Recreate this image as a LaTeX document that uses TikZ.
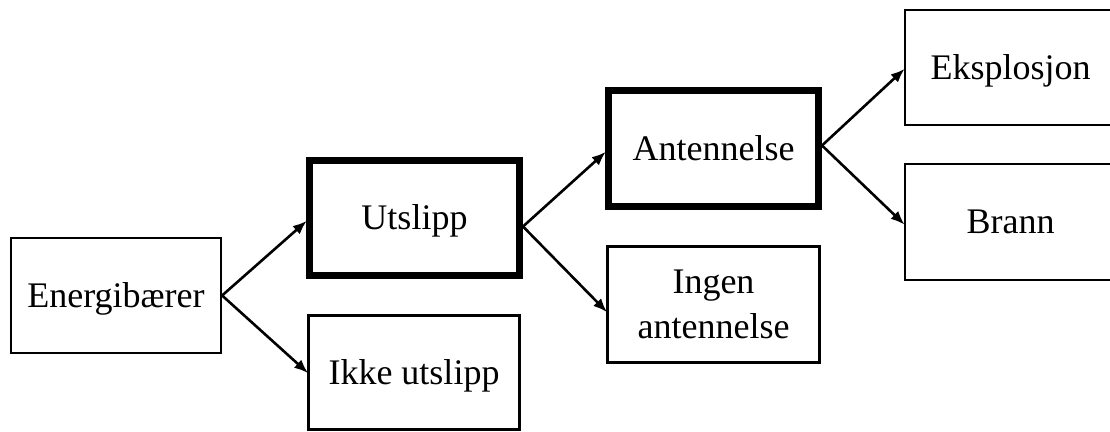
\documentclass[tikz,border=0pt]{standalone}
\usepackage{fontspec}
\setmainfont{Liberation Serif}
\usetikzlibrary{arrows.meta}
\tikzset{
  box/.style={draw=black, line width=2.2pt, minimum width=210pt, minimum height=115pt,
    inner sep=0pt, align=center, text depth=0pt, font=\fontsize{36}{45}\selectfont},
  thickbox/.style={box, line width=7pt},
  conn/.style={draw=black, line width=2.6pt, -{Latex[length=14pt,width=11pt]}, shorten >=-1pt}
}
\begin{document}
\begin{tikzpicture}[x=1pt,y=-1pt]
\useasboundingbox (0,0) rectangle (1110,431);
\clip (0,0) rectangle (1110,431);
\fill[white] (0,0) rectangle (1110,431);
\node[box] (energi) at (116,295.5) {Energibærer};
\node[thickbox] (utslipp) at (414.5,217.5) {Utslipp};
\node[box, minimum width=211pt, minimum height=114pt] (ikke) at (414,372.5) {Ikke utslipp};
\node[thickbox, minimum height=116pt] (antenn) at (713.5,148.5) {Antennelse};
\node[box, minimum width=212pt, minimum height=116pt] (ingen) at (713.5,304.5) {Ingen\\antennelse};
\node[box, minimum width=211pt] (eksp) at (1010.5,67.5) {Eksplosjon};
\node[box, minimum width=211pt, minimum height=116pt] (brann) at (1010.5,222) {Brann};
\draw[conn] (energi.east) -- ([yshift=-4pt]utslipp.west);
\draw[conn] (energi.east) -- (ikke.west);
\draw[conn] ([yshift=-9pt]utslipp.east) -- ([yshift=-4pt]antenn.west);
\draw[conn] ([yshift=-9pt]utslipp.east) -- ([yshift=-7pt]ingen.west);
\draw[conn] ([yshift=3pt]antenn.east) -- ([yshift=-2pt]eksp.west);
\draw[conn] ([yshift=3pt]antenn.east) -- ([yshift=-2pt]brann.west);
\end{tikzpicture}
\end{document}
